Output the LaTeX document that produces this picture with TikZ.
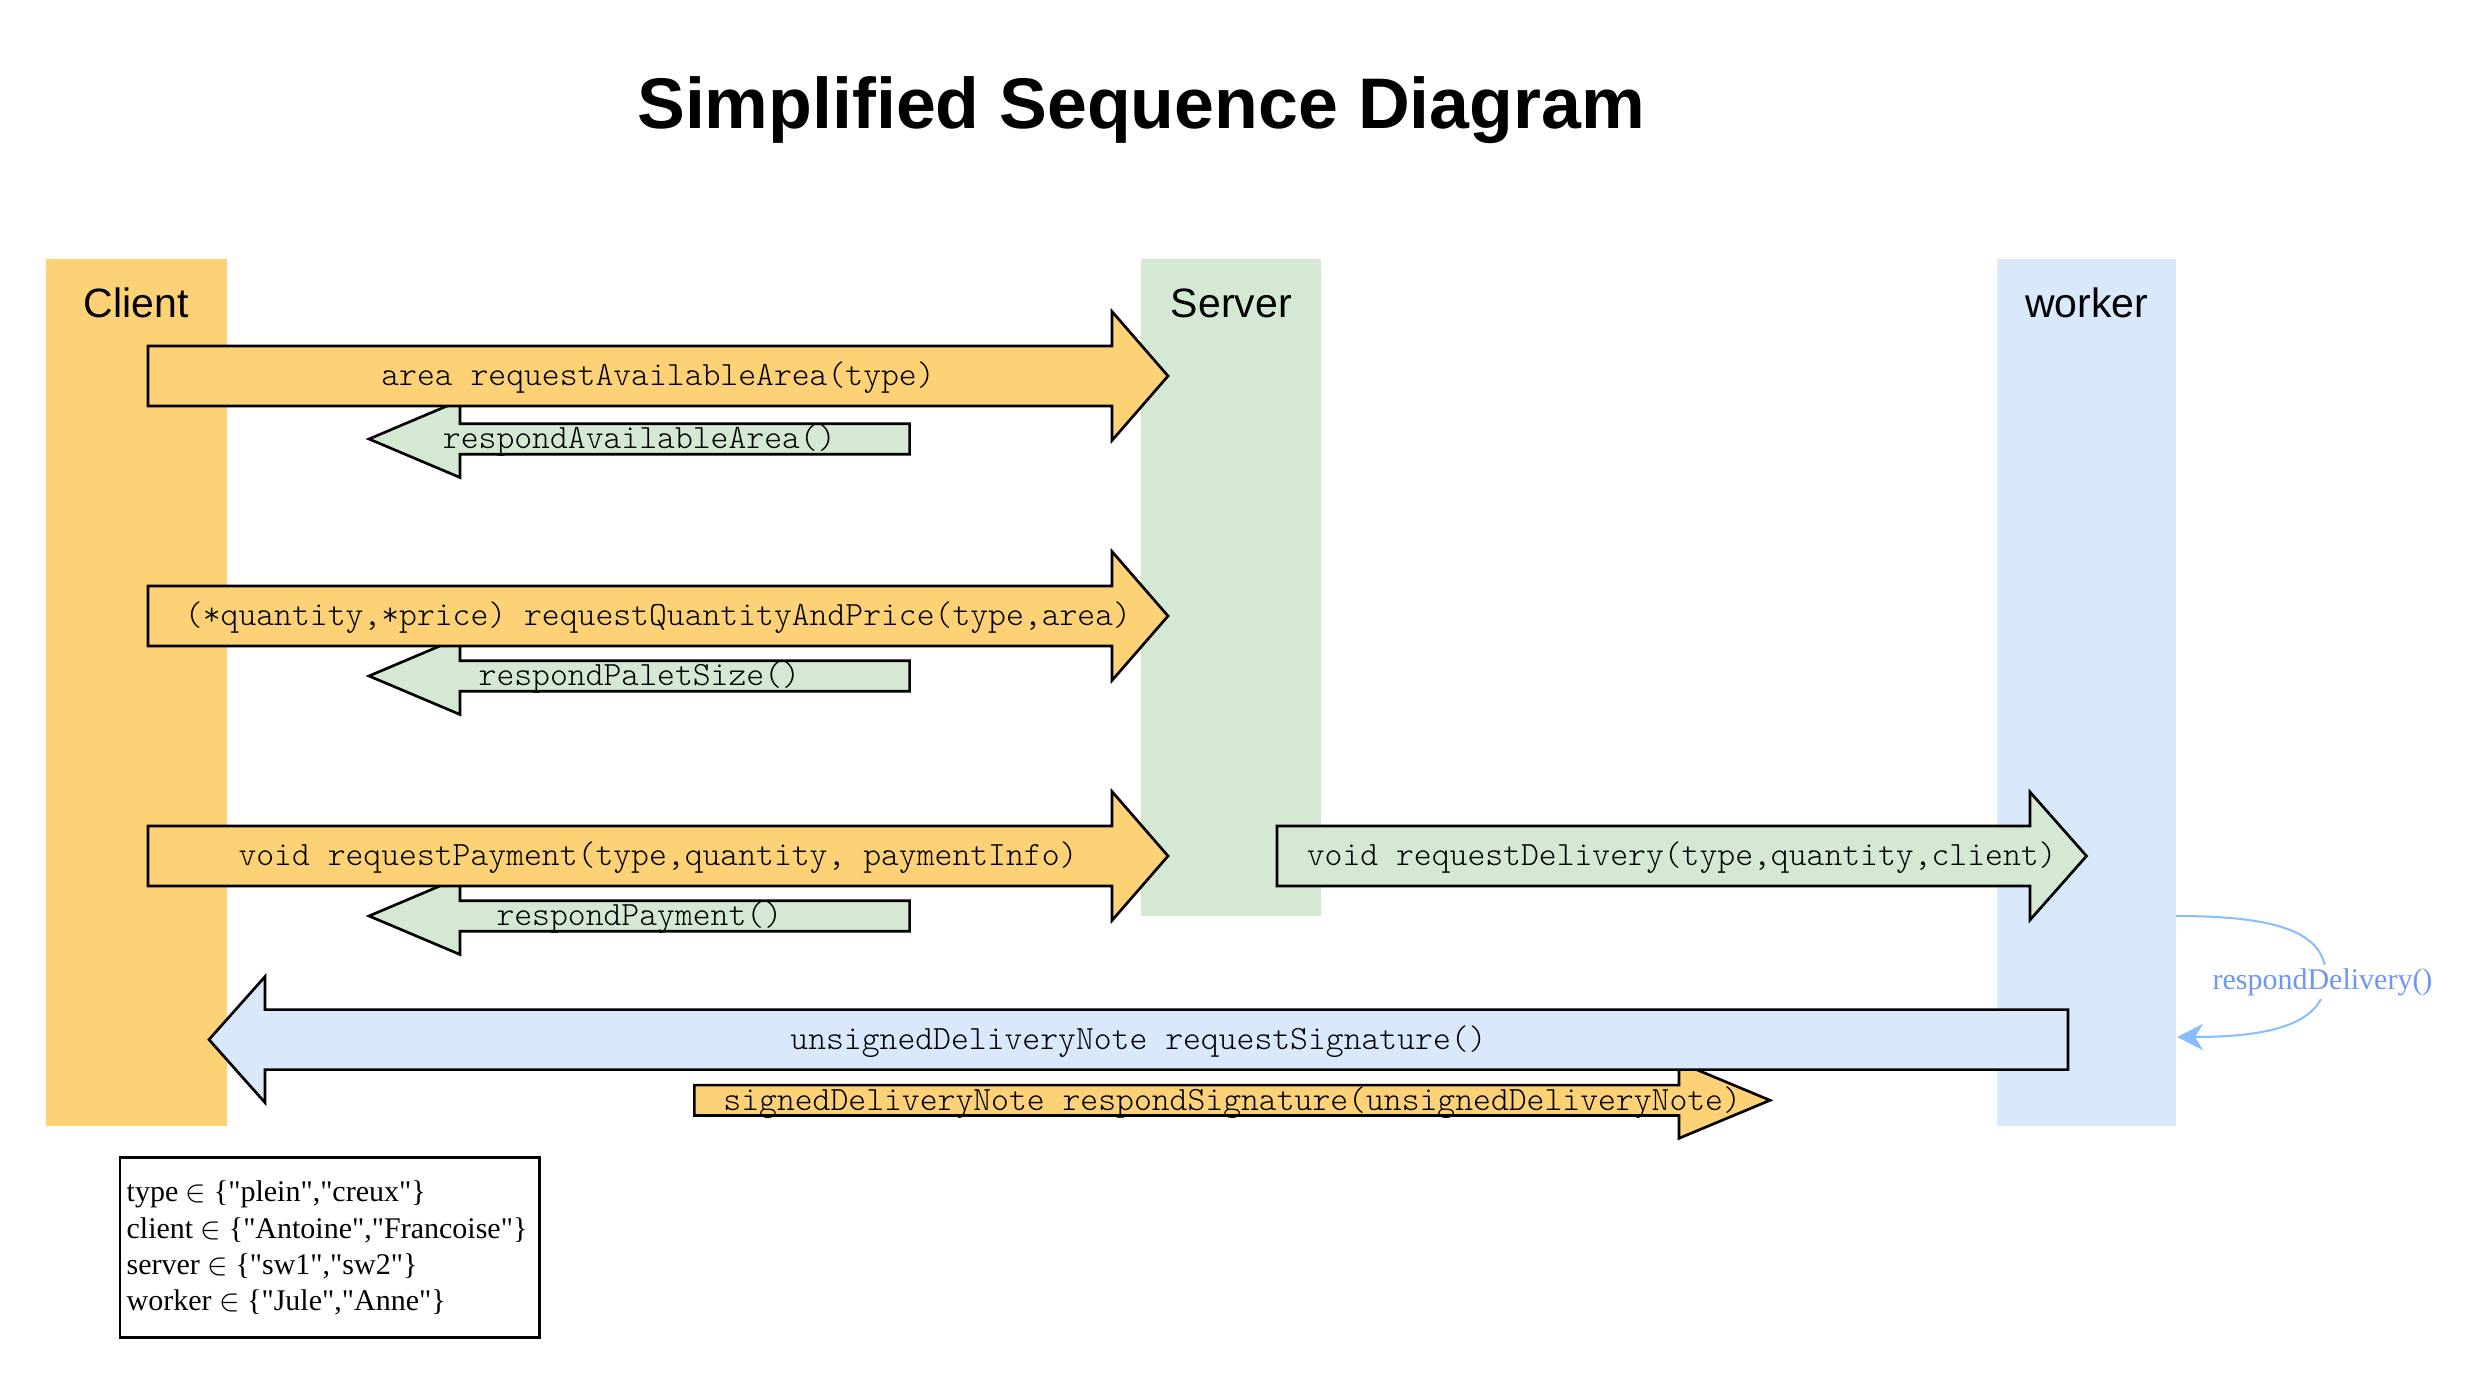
\documentclass[tikz,border=0pt]{standalone}
\usepackage{fontspec}
\setmainfont{Liberation Serif}
\newfontfamily\hvfont{Liberation Sans}
\newfontfamily\legfont{Liberation Serif}[Ligatures=TeXOff]
\newfontfamily\lightmono{lmmonolt10-regular.otf}
\usetikzlibrary{arrows.meta}
\definecolor{clientc}{HTML}{FDD276}
\definecolor{serverc}{HTML}{D5E8D4}
\definecolor{workerc}{HTML}{DAE8FC}
\definecolor{curvec}{HTML}{88BBFF}
\definecolor{labelc}{HTML}{6F96F0}
% #1 fill, #2 shaft end x, #3 head base x, #4 tip x, #5 centre y, #6 shaft half, #7 head half
\newcommand\fatarrow[7]{%
  \filldraw[arrowshape, fill=#1] (#2,{#5-#6}) -- (#3,{#5-#6}) -- (#3,{#5-#7}) -- (#4,#5)
    -- (#3,{#5+#7}) -- (#3,{#5+#6}) -- (#2,{#5+#6}) -- cycle;}
\tikzset{
  arrowshape/.style={draw=black, line width=0.8pt, line join=miter},
  mtext/.style={font=\lightmono\fontsize{10.2pt}{12pt}\selectfont, inner sep=0pt, anchor=base},
  lanelabel/.style={font=\hvfont\fontsize{12.3pt}{14pt}\selectfont, inner sep=0pt, anchor=base},
  legtext/.style={font=\legfont\fontsize{9pt}{11pt}\selectfont, inner sep=0pt, anchor=base west},
}
\begin{document}
\begin{tikzpicture}[x=0.3pt, y=-0.3pt]
\useasboundingbox (0,0) rectangle (2481,1383);
% title
\node[font=\hvfont\bfseries\fontsize{21.5pt}{24pt}\selectfont, inner sep=0pt, anchor=base] (title) at (1141,129) {Simplified Sequence Diagram};
% lanes
\fill[clientc] (46,259.3) rectangle (226.7,1126);
\fill[serverc] (1141.3,259.3) rectangle (1321.3,916.5);
\fill[workerc] (1997.2,259.3) rectangle (2176.3,1126.5);
\node[lanelabel] (clientlbl) at (136.3,317.7) {Client};
\node[lanelabel] (serverlbl) at (1231.3,317.7) {Server};
\node[lanelabel] (workerlbl) at (2086.7,317.7) {worker};
% return arrows (drawn first)
\fatarrow{serverc}{909.6}{460}{369}{439}{15.3}{38.5}
\fatarrow{serverc}{909.6}{460}{369}{676}{15.3}{38.5}
\fatarrow{serverc}{909.6}{460}{369}{916}{15.3}{38.5}
% request arrows
\fatarrow{clientc}{148}{1112}{1168}{376}{30}{64.5}
\fatarrow{clientc}{148}{1112}{1168}{616}{30}{64.5}
\fatarrow{clientc}{148}{1112}{1168}{856}{30}{64.5}
\fatarrow{serverc}{1277}{2030}{2086.5}{856}{30}{64}
\fatarrow{clientc}{694.4}{1679}{1770}{1100.3}{15.2}{38}
\fatarrow{workerc}{2068}{265}{209}{1039.6}{30}{63}
% arrow texts
\node[mtext] (m1) at (658,386) {area requestAvailableArea(type)};
\node[mtext] (r1) at (639.3,449) {respondAvailableArea()};
\node[mtext] (m2) at (658,626) {(*quantity,*price) requestQuantityAndPrice(type,area)};
\node[mtext] (r2) at (639.3,686) {respondPaletSize()};
\node[mtext] (m3) at (658,866) {void requestPayment(type,quantity, paymentInfo)};
\node[mtext] (r3) at (639.3,926) {respondPayment()};
\node[mtext] (m4) at (1681.7,866) {void requestDelivery(type,quantity,client)};
\node[mtext] (m5) at (1138.5,1049.6) {unsignedDeliveryNote requestSignature()};
\node[mtext] (r5) at (1232.2,1110.3) {signedDeliveryNote respondSignature(unsignedDeliveryNote)};
% self message on worker
\coordinate (wout) at (2176,916);
\coordinate (win) at (2177,1037);
\draw[curvec, line width=0.6pt, -{Stealth[length=7.8pt,width=7.8pt,inset=2.4pt]}]
  (wout) .. controls (2285,916) and (2326,935) .. (2326,977)
  .. controls (2326,1018) and (2285,1037) .. (win);
\node[font=\fontsize{9pt}{11pt}\selectfont, text=labelc, fill=white, inner sep=1pt, anchor=base] (rdlbl) at (2322.5,989.3) {respondDelivery()};
% legend
\node[draw=black, line width=0.8pt, minimum width=125.76pt, minimum height=54.15pt, inner sep=0pt, anchor=north west] (legend) at (118.8,1156) {};
\node[legtext] (leg1) at (126,1202) {type $\in$ \{"plein","creux"\}};
\node[legtext] (leg2) at (126,1238.3) {client $\in$ \{"Antoine","Francoise"\}};
\node[legtext] (leg3) at (126,1274.6) {server $\in$ \{"sw1","sw2"\}};
\node[legtext] (leg4) at (126,1310.9) {worker $\in$ \{"Jule","Anne"\}};
\end{tikzpicture}
\end{document}
